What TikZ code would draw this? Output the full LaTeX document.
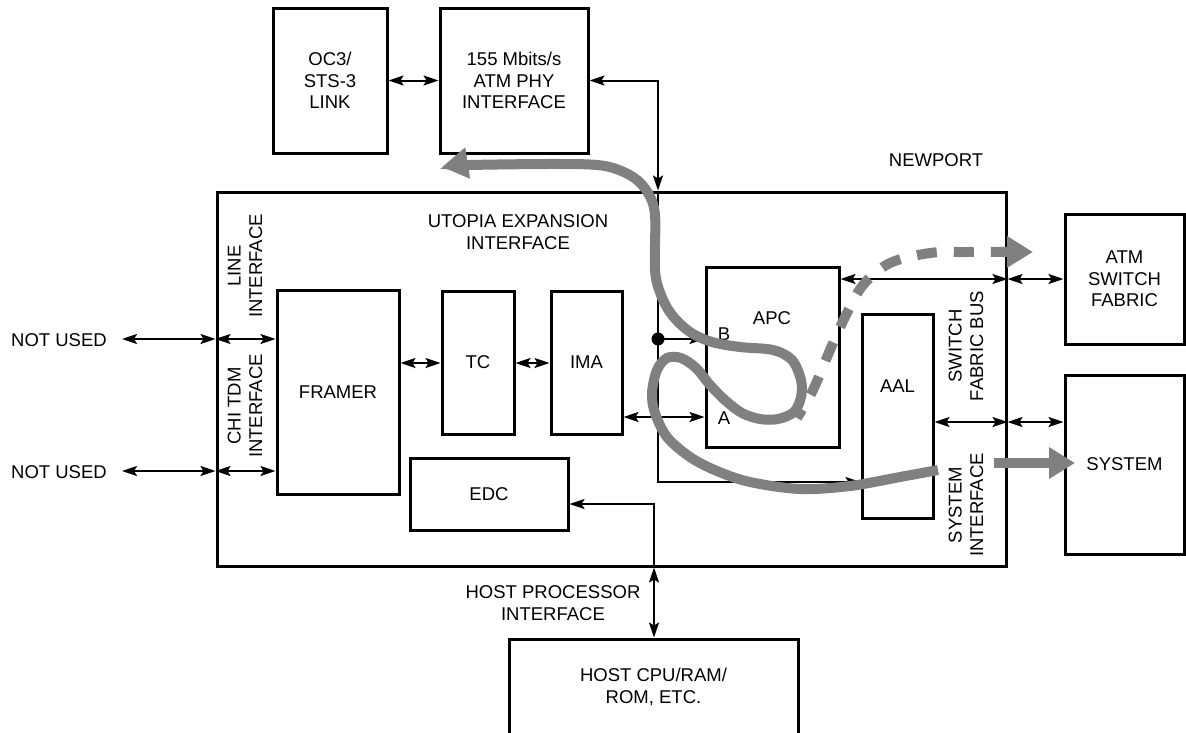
\documentclass[tikz,border=0pt]{standalone}
\usepackage{fontspec}
\setmainfont{Liberation Sans}
\usetikzlibrary{arrows.meta}
\newcommand\fsz{\fontsize{18.5}{21.5}\selectfont}
\definecolor{pathgray}{RGB}{128,128,128}
\begin{document}
\begin{tikzpicture}[x=1pt,y=-1pt,
  every node/.style={font=\fsz, inner sep=0pt},
  blk/.style={draw, line width=3pt, align=center},
  txt/.style={align=center},
  vtxt/.style={align=center, rotate=90},
  arr/.style={line width=2pt, {Stealth[length=15pt,width=10pt,inset=3pt]}-{Stealth[length=15pt,width=10pt,inset=3pt]}},
  arrR/.style={line width=2pt, -{Stealth[length=15pt,width=10pt,inset=3pt]}},
  gpath/.style={draw=pathgray, line width=10pt},
  ghead/.style={-{Triangle[length=26pt,width=30pt]}},
  gheadL/.style={{Triangle[length=26pt,width=30pt]}-}
]
\useasboundingbox (0,0) rectangle (1186,732);
\clip (0,0) rectangle (1186,732);

% boxes
\node[blk, minimum width=114pt, minimum height=145pt] (oc3) at (330,80.5) {OC3/\\STS-3\\LINK};
\node[blk, minimum width=148pt, minimum height=145pt] (phy) at (514,80.5) {155 Mbits/s\\ATM PHY\\INTERFACE};
\node[blk, minimum width=789pt, minimum height=374pt] (np) at (611.5,379) {};
\node[blk, minimum width=122pt, minimum height=204pt] (framer) at (338,392) {FRAMER};
\node[blk, minimum width=72pt, minimum height=143pt] (tc) at (478,362.5) {TC};
\node[blk, minimum width=71pt, minimum height=143pt] (ima) at (586.5,362.5) {IMA};
\node[blk, minimum width=158pt, minimum height=72pt] (edc) at (489,494) {EDC};
\node[blk, minimum width=133pt, minimum height=180pt] (apc) at (772.5,357) {};
\node[blk, minimum width=71pt, minimum height=204pt] (aal) at (897.5,416) {};
\node[blk, minimum width=119pt, minimum height=130pt] (asf) at (1124.5,279) {ATM\\SWITCH\\FABRIC};
\node[blk, minimum width=119pt, minimum height=179pt] (sys) at (1124.5,464.5) {SYSTEM};
\node[blk, minimum width=289pt, minimum height=140pt] (host) at (653.5,709) {};

% labels
\node[txt] (apcl) at (772,318) {APC};
\node[txt] (aall) at (897.5,386) {AAL};
\node[txt] (bl) at (724,334) {B};
\node[txt] (al) at (724,418) {A};
\node[txt] (hostl) at (653.5,687) {HOST CPU/RAM/\\ROM, ETC.};
\node[txt] (newport) at (936,160) {NEWPORT};
\node[txt] (utopia) at (518,232) {UTOPIA EXPANSION\\INTERFACE};
\node[vtxt] (lineif) at (245,266) {LINE\\INTERFACE};
\node[vtxt] (chiif) at (245,406) {CHI TDM\\INTERFACE};
\node[vtxt] (sfbus) at (966,346) {SWITCH\\FABRIC BUS};
\node[vtxt] (sysif) at (966,505) {SYSTEM\\INTERFACE};
\node[txt] (hpi) at (553,603) {HOST PROCESSOR\\INTERFACE};
\node[anchor=east] (nu1) at (107,340) {NOT USED};
\node[anchor=east] (nu2) at (107,472) {NOT USED};

% rows / helper coordinates
\coordinate (r1) at (0,339);
\coordinate (r2) at (0,471);
\coordinate (rtc) at (0,363);
\coordinate (rA) at (0,417);
\coordinate (rsf) at (0,279);
\coordinate (rsi) at (0,422);
\coordinate (raal) at (0,482);
\coordinate (xv) at (658,0);
\coordinate (hx) at (654,504);
\coordinate (nu1e) at (122,339);
\coordinate (nu2e) at (122,471);

% black connectors
\draw[arr] (nu1e) -- (np.west |- r1);
\draw[arr] (np.west |- r1) -- (framer.west |- r1);
\draw[arr] (nu2e) -- (np.west |- r2);
\draw[arr] (np.west |- r2) -- (framer.west |- r2);
\draw[arr] (framer.east |- rtc) -- (tc.west |- rtc);
\draw[arr] (tc.east |- rtc) -- (ima.west |- rtc);
\draw[arr] (ima.east |- rA) -- (apc.west |- rA);
\draw[arr] (oc3.east) -- (phy.west);
\draw[arrR] (xv |- np.north) -- (xv |- raal) -- (aal.west |- raal);
\fill (xv |- r1) circle (6.5pt);
\draw[arrR] (xv |- r1) -- (apc.west |- r1);
\draw[arr] (apc.east |- rsf) -- (np.east |- rsf);
\draw[arr] (np.east |- rsf) -- (asf.west |- rsf);
\draw[arr] (aal.east |- rsi) -- (np.east |- rsi);
\draw[arr] (np.east |- rsi) -- (sys.west |- rsi);
\draw[arrR] (hx |- np.south) -- (hx) -- (hx -| edc.east);
\draw[arr] (hx |- np.south) -- (hx |- host.north);

% gray data paths
\draw[gpath, gheadL] plot[smooth, tension=0.55] coordinates {
 (442,167) (470,165) (560,164) (605,166) (633,177) (648,193) (655,215) (655,270)
 (661,295) (672,315) (690,332) (712,342) (740,347) (773,350) (792,360) (801,380)
 (801,397) (794,412) (778,419) (760,419) (742,413) (726,401) (710,385) (696,368)
 (681,358) (667,358) (657,370) (652,393) (655,413) (667,437) (690,457) (717,471)
 (750,482) (800,489) (850,486) (900,477) (938,470)};
\coordinate (s1) at (994,463);
\coordinate (s2) at (1075,463);
\draw[gpath, ghead] (s1) -- (s2);
\draw[gpath, ghead, dash pattern=on 20pt off 17pt, dash phase=10pt] plot[smooth, tension=0.55] coordinates {
 (797,418) (813,390) (830,350) (845,317) (863,285) (890,263) (930,253) (967,252) (1033,252)};

% PHY link arrow on top
\draw[arr] (phy.east) -| (xv |- np.north);
\end{tikzpicture}
\end{document}
